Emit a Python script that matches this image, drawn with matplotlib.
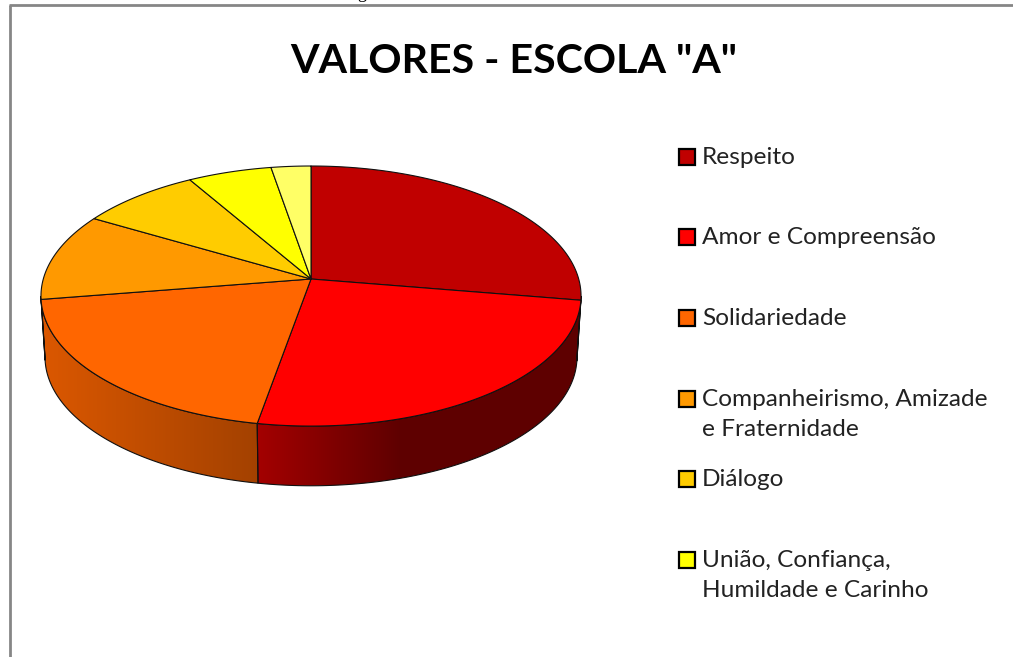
import numpy as np
import matplotlib
matplotlib.use("Agg")
import matplotlib.pyplot as plt
from matplotlib.patches import Polygon, Rectangle

title = 'VALORES - ESCOLA "A"'
slice_values = [27.6, 25.2, 19.7, 10.9, 8.2, 5.7, 2.7]
slice_colors = ['#c00000', '#ff0000', '#ff6600', '#ff9900', '#ffcc00', '#ffff00', '#ffff66']
legend_labels = ['Respeito', 'Amor e Compreensão', 'Solidariedade',
                 'Companheirismo, Amizade\ne Fraternidade', 'Diálogo',
                 'União, Confiança,\nHumildade e Carinho']
legend_colors = slice_colors[:6]

W, H = 1013, 657
fig = plt.figure(figsize=(W / 100, H / 100), dpi=100)
ax = fig.add_axes([0, 0, 1, 1])
ax.set_xlim(0, W)
ax.set_ylim(H, 0)
ax.axis('off')

# Perspective projection of the pie disc
APEX_X, APEX_Y = 311.0, 279.0
B, A, K = 267.7, 127.8, 0.131


def rim(theta_deg):
    t = np.radians(np.asarray(theta_deg, dtype=float))
    u, v = np.sin(t), np.cos(t)
    d = 1 + K * v
    return APEX_X + B * u / d, APEX_Y - A * v / d


def lower(x, y):
    return APEX_X + (x - APEX_X) * 0.985, 357 + (y - 296) * 0.99


edges = np.concatenate([[0], np.cumsum(slice_values)]) / sum(slice_values) * 360
VIS0, VIS1 = 97.5, 262.5

# Extruded side with horizontal shading
gx = np.arange(0, W)
shade = np.interp(gx, [41, 258, 400, 581], [0.86, 0.64, 0.37, 0.37])
for i, col in enumerate(slice_colors):
    a0, a1 = max(edges[i], VIS0), min(edges[i + 1], VIS1)
    if a1 <= a0:
        continue
    th = np.linspace(a0, a1, 120)
    x, y = rim(th)
    xb, yb = lower(x, y)
    pts = np.column_stack([np.r_[x, xb[::-1]], np.r_[y, yb[::-1]]])
    rgb = np.array(matplotlib.colors.to_rgb(col))
    img = shade[None, :, None] * rgb[None, None, :]
    im = ax.imshow(img, extent=(0, W, H, 0), aspect='auto', zorder=2, interpolation='bilinear')
    poly = Polygon(pts, closed=True, fc='none', ec='#101010', lw=0.8, zorder=3)
    ax.add_patch(poly)
    im.set_clip_path(poly)
ax.set_xlim(0, W)
ax.set_ylim(H, 0)

# Top of the pie
for i, col in enumerate(slice_colors):
    th = np.linspace(edges[i], edges[i + 1], 160)
    x, y = rim(th)
    pts = np.column_stack([np.r_[APEX_X, x], np.r_[APEX_Y, y]])
    ax.add_patch(Polygon(pts, closed=True, fc=col, ec='#101010', lw=0.8, zorder=4, joinstyle='round'))

# Chart frame
ax.plot([10, 10], [H, 5], color='#868686', lw=2, zorder=1, solid_capstyle='butt')
ax.plot([9, W], [5, 5], color='#868686', lw=2, zorder=1, solid_capstyle='butt')

# Clipped stray glyph above the frame
ax.text(362, -2.5, 'g', family='Liberation Serif', fontsize=13, ha='center', va='baseline',
        color='black', clip_on=True, zorder=5)

ax.text(513.5, 73, title, family='Lato', weight='bold', fontsize=29.6, ha='center', va='baseline',
        color='black', zorder=5)

ys = [156.5, 237, 318, 399, 479.3, 560]
text_ys = [157, 238, 318.5, 414.5, 479.5, 575.5]
for yc, ty, lab, col in zip(ys, text_ys, legend_labels, legend_colors):
    ax.add_patch(Rectangle((678.5, yc - 8), 16, 16, fc=col, ec='black', lw=1.6, zorder=5))
    ax.text(702, ty, lab, family='Lato', fontsize=17.6, ha='left', va='center',
            color='#222222', linespacing=1.57, zorder=5)

fig.savefig('out.png', dpi=100, facecolor='white')
